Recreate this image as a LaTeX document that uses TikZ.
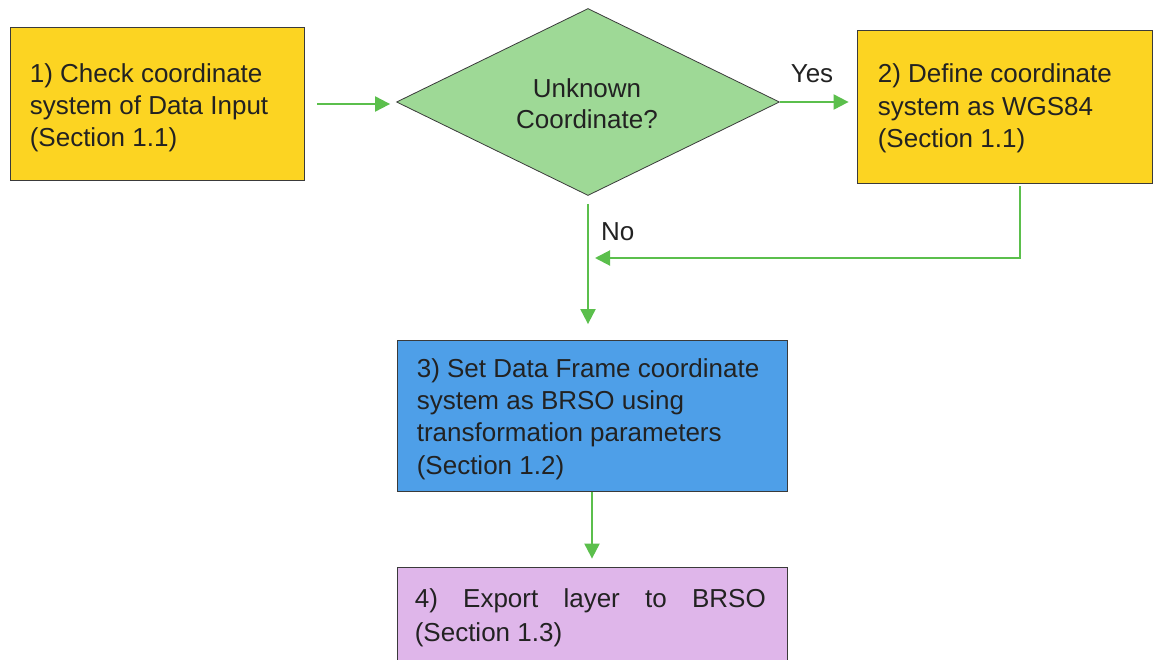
\documentclass[tikz,border=0pt]{standalone}
\usepackage{fontspec}
\setmainfont{Liberation Sans}
\usetikzlibrary{shapes.geometric,arrows.meta}

\definecolor{stepyellow}{HTML}{FCD422}
\definecolor{decgreen}{HTML}{9ED996}
\definecolor{stepblue}{HTML}{4E9FE8}
\definecolor{steppurple}{HTML}{DFB6EA}
\definecolor{flowgreen}{HTML}{5BBF4C}
\definecolor{edgegray}{HTML}{3A3A3A}
\definecolor{inkc}{HTML}{222222}

\tikzset{
  stepbox/.style={rectangle, draw=edgegray, line width=0.8pt, inner sep=0pt},
  decbox/.style={diamond, draw=edgegray, line width=0.8pt, inner sep=0pt, fill=decgreen},
  lbl/.style={inner sep=0pt, text=inkc, font=\fontsize{26pt}{32.4pt}\selectfont},
  flow/.style={draw=flowgreen, line width=2pt, -{Triangle[length=15pt,width=15pt]}},
}

\begin{document}
\begin{tikzpicture}[x=1pt,y=-1pt]
  \useasboundingbox (0,0) rectangle (1159,659);
  \clip (0,0) rectangle (1159,659);

  % process boxes and decision
  \node[stepbox, fill=stepyellow, minimum width=294pt, minimum height=153pt] (b1) at (157,104) {};
  \node[decbox, minimum width=383pt, minimum height=187pt] (dec) at (588,102) {};
  \node[stepbox, fill=stepyellow, minimum width=295pt, minimum height=153pt] (b2) at (1004.5,106.5) {};
  \node[stepbox, fill=stepblue, minimum width=390pt, minimum height=151pt] (b3) at (592,416) {};
  \node[stepbox, fill=steppurple, minimum width=390pt, minimum height=150pt] (b4) at (592,642) {};

  % box texts
  \node[lbl, anchor=base west] (t1) at ([xshift=20pt,yshift=-55pt]b1.north west)
    {\begin{tabular}[t]{@{}l@{}}1) Check coordinate\\system of Data Input\\(Section 1.1)\end{tabular}};
  \node[lbl, anchor=base] (td1) at (587,97) {Unknown};
  \node[lbl, anchor=base] (td2) at (587,128.5) {Coordinate?};
  \node[lbl, anchor=base west] (t2) at ([xshift=21pt,yshift=-53pt]b2.north west)
    {\begin{tabular}[t]{@{}l@{}}2) Define coordinate\\system as WGS84\\(Section 1.1)\end{tabular}};
  \node[lbl, anchor=base west] (t3) at ([xshift=20pt,yshift=-37pt]b3.north west)
    {\begin{tabular}[t]{@{}l@{}}3) Set Data Frame coordinate\\system as BRSO using\\transformation parameters\\(Section 1.2)\end{tabular}};
  \node[lbl, anchor=base west] (t4) at ([xshift=18pt,yshift=-41pt]b4.north west)
    {\begin{tabular}[t]{@{}l@{}}\makebox[351pt][s]{4)\hfill Export\hfill layer\hfill to\hfill BRSO}\\[1.6pt](Section 1.3)\end{tabular}};

  % branch labels
  \node[lbl, anchor=base] (yes) at (812,82) {Yes};
  \node[lbl, anchor=base west] (no) at (601,240) {No};

  % connector end points
  \coordinate (a1s) at ([xshift=13pt]b1.east);
  \coordinate (a1e) at ([xshift=-6pt]dec.west);
  \coordinate (y2e) at ([xshift=-8pt]b2.west);
  \coordinate (m1) at ([xshift=15.5pt,yshift=-3pt]b2.south);
  \coordinate (join) at (595,258);
  \coordinate (no1) at ([yshift=-8pt]dec.south);
  \coordinate (b3in) at ([yshift=16pt]b3.north);
  \coordinate (b4in) at ([yshift=8pt]b4.north);

  % connectors
  \draw[flow] (a1s) -- (a1s -| a1e);
  \draw[flow] (dec.east) -- (dec.east -| y2e);
  \draw[flow] (m1) |- (join);
  \draw[flow] (no1) -- (no1 |- b3in);
  \draw[flow] (b3.south) -- (b4in);
\end{tikzpicture}
\end{document}
